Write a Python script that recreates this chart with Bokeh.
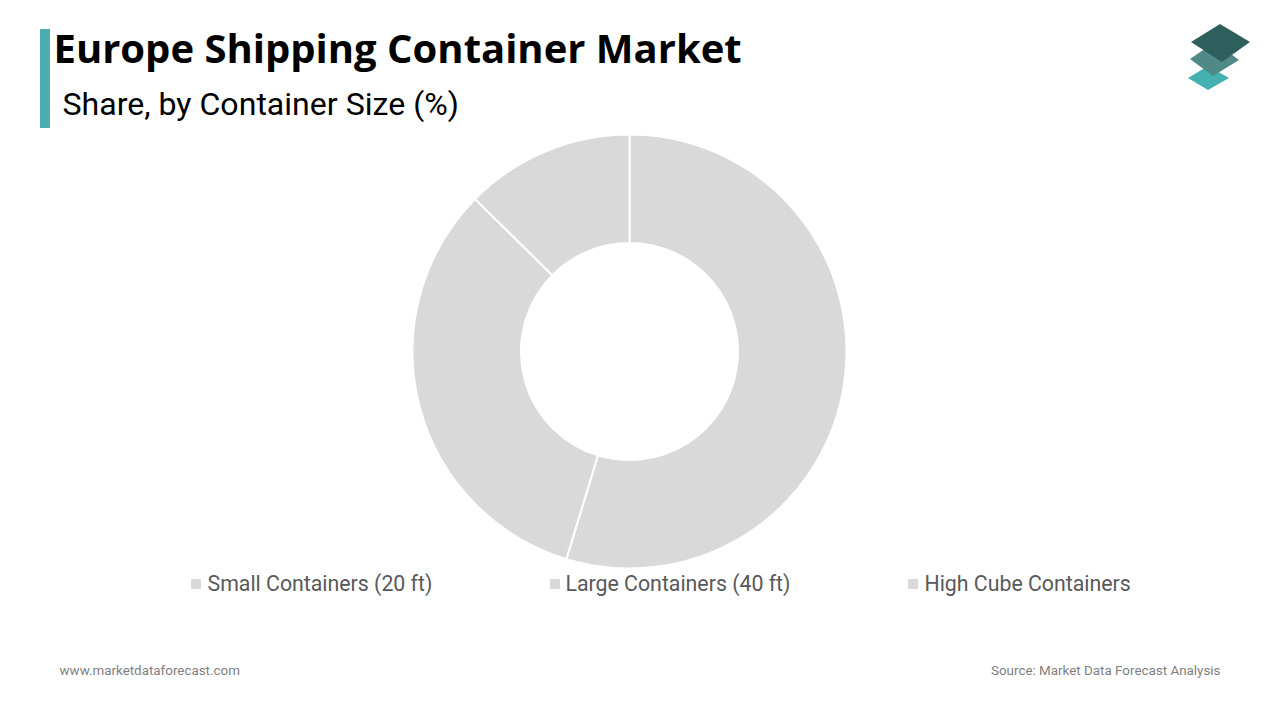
import numpy as np
from bokeh.embed import file_html
from bokeh.models import ColumnDataSource, Range1d
from bokeh.plotting import figure
from bokeh.resources import INLINE

categories = ["Small Containers (20 ft)", "Large Containers (40 ft)", "High Cube Containers"]
shares = [54.7, 32.7, 12.6]
slice_colors = ["#D9D9D9", "#D9D9D9", "#D9D9D9"]
title_text = "Europe Shipping Container Market"
subtitle_text = "Share, by Container Size (%)"
footer_left = "www.marketdataforecast.com"
footer_right = "Source: Market Data Forecast Analysis"

W, H = 1264, 704
p = figure(width=W, height=H, output_backend="svg", toolbar_location=None,
           x_range=Range1d(0.5, W + 0.5), y_range=Range1d(720 - H - 0.5, 720 - 0.5),
           min_border=0, outline_line_color=None, background_fill_color="white")
p.axis.visible = False
p.grid.visible = False

def Y(v):
    return 720 - v

# donut
fr = np.array(shares) / sum(shares)
cum = np.concatenate([[0], np.cumsum(fr)])
start = np.pi / 2 - 2 * np.pi * cum[:-1]
end = np.pi / 2 - 2 * np.pi * cum[1:]
src = ColumnDataSource(dict(start=start, end=end, color=slice_colors, cat=categories))
p.annular_wedge(x=629.5, y=Y(351.5), inner_radius=108.5, outer_radius=217,
                start_angle="start", end_angle="end", direction="clock",
                fill_color="color", line_color="white", line_width=2, source=src)

# accent bar
p.quad(left=40, right=50, top=Y(29), bottom=Y(128), fill_color="#4BADAD", line_color=None)

# titles
p.text(x=[53.5], y=[Y(47.5)], text=[title_text], text_font={"value": "Open Sans"}, text_font_style="bold",
       text_font_size="40px", text_color="#000000", text_baseline="middle")
p.text(x=[62.5], y=[Y(103.5)], text=[subtitle_text], text_font={"value": "Roboto"},
       text_font_size="32.1px", text_color="#000000", text_baseline="middle")

# legend
leg_x = [191, 550, 908]
text_x = [207.5, 565.5, 924.5]
p.quad(left=leg_x, right=[v + 10 for v in leg_x], top=[Y(579)] * 3, bottom=[Y(589)] * 3,
       fill_color=slice_colors, line_color=None)
p.text(x=text_x, y=[Y(583.5)] * 3, text=categories, text_font={"value": "Roboto"},
       text_font_size="21.3px", text_color="#595959", text_baseline="middle")

# footer
p.text(x=[59.5], y=[Y(670.5)], text=[footer_left], text_font={"value": "Roboto"},
       text_font_size="13.4px", text_color="#7F7F7F", text_baseline="middle")
p.text(x=[1220.5], y=[Y(670.5)], text=[footer_right], text_font={"value": "Roboto"},
       text_font_size="13.4px", text_color="#7F7F7F", text_baseline="middle", text_align="right")

# logo
logo_xs = [[1188, 1208, 1229, 1208], [1190, 1215, 1239, 1213], [1191, 1220, 1250, 1222]]
logo_ys = [[78, 66, 78, 90], [59, 42, 60, 76], [42, 24, 42, 62]]
logo_colors = ["#45B0B0", "#4F8A88", "#2F5F5D"]
p.patches(xs=logo_xs, ys=[[Y(v) for v in r] for r in logo_ys], fill_color=logo_colors, line_color=None)

open("out.html", "w").write(file_html(p, INLINE))
